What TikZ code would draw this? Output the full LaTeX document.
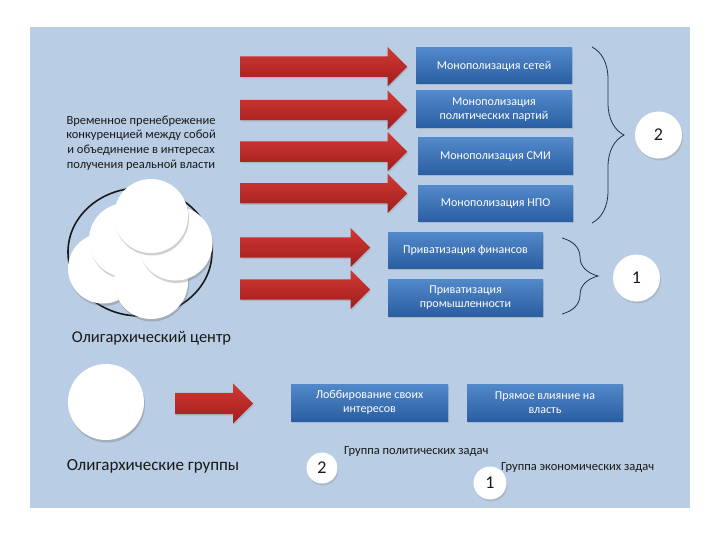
\documentclass[tikz,border=0pt]{standalone}
\usepackage{fontspec}
\setmainfont{Carlito}
\usepackage{tikz}
\usetikzlibrary{shapes.arrows,shadows,decorations.pathreplacing}
\definecolor{Back}{RGB}{185,205,228}
\definecolor{BoxTop}{RGB}{82,137,202}
\definecolor{BoxBottom}{RGB}{42,94,162}
\definecolor{ArrowTop}{RGB}{210,58,52}
\definecolor{ArrowBottom}{RGB}{160,28,28}
\definecolor{Brace}{RGB}{32,48,84}
\definecolor{Ink}{RGB}{25,25,25}

\begin{document}
\begin{tikzpicture}[x=1pt,y=-1pt,
    bluebox/.style={rectangle, top color=BoxTop, bottom color=BoxBottom, text=white,
        align=center, font=\fontsize{12}{13.5}\selectfont, minimum width=156pt,
        minimum height=37pt, inner sep=1pt,
        drop shadow={shadow xshift=1pt, shadow yshift=-1.5pt, opacity=0.3}},
    redarrow/.style={single arrow, top color=ArrowTop, bottom color=ArrowBottom,
        minimum width=39pt, single arrow head extend=9.5pt, inner xsep=0pt,
        inner ysep=10pt, anchor=tail,
        drop shadow={shadow xshift=1pt, shadow yshift=-1.5pt, opacity=0.25}},
    disc/.style={circle, fill=white, minimum size=74pt, inner sep=0pt,
        drop shadow={shadow xshift=1pt, shadow yshift=-2.5pt, opacity=0.3, fill=black!60}},
    numdisc/.style={circle, fill=white, inner sep=0pt, text=Ink,
        font=\fontsize{18}{18}\selectfont,
        drop shadow={shadow xshift=1pt, shadow yshift=-2pt, opacity=0.25}},
    label/.style={text=Ink, align=center}]
    %% Background
    \useasboundingbox (0,0) rectangle (720,540);
    \fill[Back] (30,27) rectangle (690,508);

    %% Arrows to the boxes
    \node[redarrow, minimum height=167pt] (arr1) at (240,66.7) {};
    \node[redarrow, minimum height=167pt] (arr2) at (240,110) {};
    \node[redarrow, minimum height=167pt] (arr3) at (240,151.7) {};
    \node[redarrow, minimum height=167pt] (arr4) at (240,193.3) {};
    \node[redarrow, minimum height=130pt] (arr5) at (240,247.5) {};
    \node[redarrow, minimum height=130pt] (arr6) at (240,289.5) {};
    \node[redarrow, minimum height=78pt, minimum width=40pt, inner ysep=10.5pt] (arr7) at (175,403.5) {};

    %% Political tasks
    \node[bluebox, minimum height=36pt] (net) at (494,66) {Монополизация сетей};
    \node[bluebox] (party) at (494,109.5) {Монополизация\\политических партий};
    \node[bluebox, minimum width=155pt] (smi) at (495.5,156.5) {Монополизация СМИ};
    \node[bluebox, minimum width=155pt, minimum height=36pt] (npo) at (495.5,204) {Монополизация НПО};
    \draw[Brace, thick, decorate, decoration={brace, amplitude=32pt}] (592,47) -- (592,223);
    \node[numdisc, minimum size=47pt] (two) at (658.5,135) {2};

    %% Economic tasks
    \node[bluebox, minimum width=155pt, minimum height=36pt] (fin) at (465.5,250) {Приватизация финансов};
    \node[bluebox, minimum width=155pt] (ind) at (465.5,297.5) {Приватизация\\промышленности};
    \draw[Brace, thick, decorate, decoration={brace, amplitude=36pt}] (562,238) -- (562,314);
    \node[numdisc, minimum size=47pt] (one) at (636.5,278) {1};

    %% Oligarchic centre
    \node[label, font=\fontsize{12.5}{14.7}\selectfont] (note) at (141,143)
        {Временное пренебрежение\\конкуренцией между собой\\и объединение в интересах\\получения реальной власти};
    \draw[line width=1.6pt, Ink] (140,252) ellipse [x radius=72, y radius=64];
    \node[disc, minimum size=70pt] (c1) at (103,268.5) {};
    \node[disc] (c2) at (126,240) {};
    \node[disc] (c3) at (151,282) {};
    \node[disc] (c4) at (175.5,243.5) {};
    \node[disc] (c5) at (151,216) {};
    \node[label, font=\fontsize{16.5}{16.5}\selectfont] (centre) at (151.5,338) {Олигархический центр};

    %% Oligarchic groups
    \node[disc, minimum size=76pt] (grp) at (106,402) {};
    \node[label, font=\fontsize{17}{17}\selectfont] (groups) at (153,466) {Олигархические группы};
    \node[bluebox, minimum width=157pt] (lobby) at (369.5,402.5) {Лоббирование своих\\интересов};
    \node[bluebox] (power) at (545,402.5) {Прямое влияние на\\власть};

    %% Legend
    \node[numdisc, minimum size=31pt] (two2) at (322,468) {2};
    \node[label, anchor=west, inner sep=0pt, font=\fontsize{12.5}{12.5}\selectfont] (pol) at (344,452) {Группа политических задач};
    \node[label, anchor=west, inner sep=0pt, font=\fontsize{12.5}{12.5}\selectfont] (eco) at (501,468) {Группа экономических задач};
    \node[numdisc, minimum size=33pt] (one2) at (490,483) {1};
\end{tikzpicture}
\end{document}
